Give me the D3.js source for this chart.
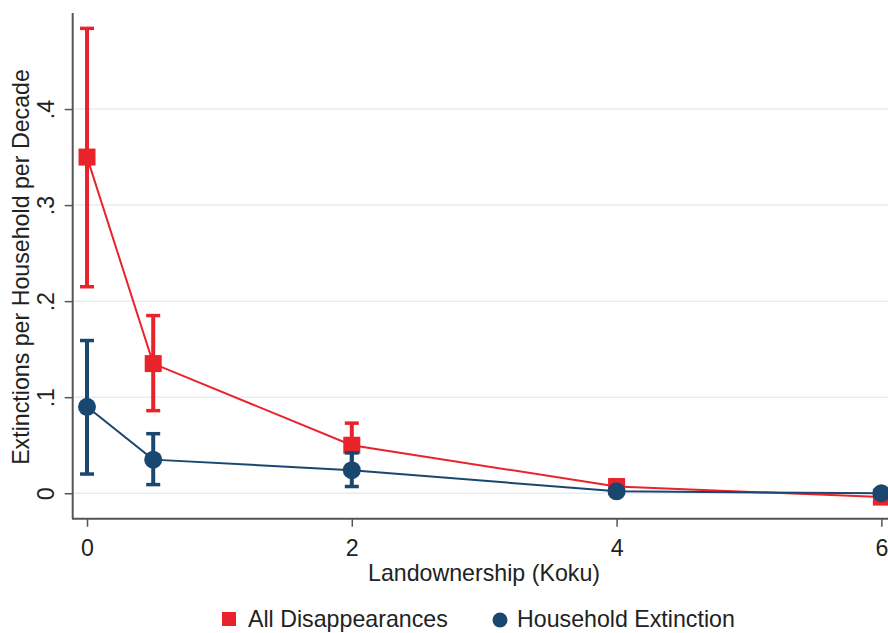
<!DOCTYPE html>
<html>
<head>
<meta charset="utf-8">
<script src="https://cdn.jsdelivr.net/npm/d3@7"></script>
<style>
  body { margin: 0; background: #fff; }
  text { font-family: "Liberation Sans", Arial, sans-serif; fill: #222; }
</style>
</head>
<body>
<div class="chart"></div>
<script>
var svgWidth = 888;
var svgHeight = 633;
var fontSize = 23.2;

// data
var koku = [0, 0.5, 2, 4, 6];
var allDisp = [0.350, 0.135, 0.050, 0.007, -0.004];
var allDispLo = [0.215, 0.086, 0.028, 0.003, -0.008];
var allDispHi = [0.484, 0.185, 0.073, 0.011, 0.000];
var hhExt = [0.090, 0.035, 0.024, 0.002, 0.000];
var hhExtLo = [0.020, 0.009, 0.007, 0.000, -0.002];
var hhExtHi = [0.159, 0.062, 0.042, 0.004, 0.002];

var xTicks = [0, 2, 4, 6];
var yTicks = [0, 0.1, 0.2, 0.3, 0.4];
var yTickLabels = ["0", ".1", ".2", ".3", ".4"];

var red = "#e8232b";
var navy = "#1a476f";

var svg = d3.select(".chart")
  .append("svg")
  .attr("width", svgWidth)
  .attr("height", svgHeight);

// scales
var xScale = d3.scaleLinear()
  .domain([-0.1134, 6.05])
  .range([72, 888]);

var yScale = d3.scaleLinear()
  .domain([-0.0265, 0.5])
  .range([518.7, 13]);

// grid lines
svg.append("g")
  .selectAll("line")
  .data(yTicks)
  .enter()
  .append("line")
  .attr("x1", 73)
  .attr("x2", svgWidth)
  .attr("y1", d => yScale(d))
  .attr("y2", d => yScale(d))
  .attr("stroke", "#e6eef2")
  .attr("stroke-width", 1.5);

// axes
var bottomAxis = d3.axisBottom(xScale)
  .tickValues(xTicks)
  .tickSize(8)
  .tickFormat(d3.format("d"));

var leftAxis = d3.axisLeft(yScale)
  .tickValues(yTicks)
  .tickSize(8)
  .tickFormat((d, i) => yTickLabels[i]);

var xAxis = svg.append("g")
  .attr("transform", "translate(0,518.7)")
  .call(bottomAxis);
xAxis.select(".domain").attr("d", "M72,0H888").attr("stroke", "#555").attr("stroke-width", 2);
xAxis.selectAll(".tick line").attr("stroke", "#555").attr("stroke-width", 1.5);
xAxis.selectAll("text")
  .attr("font-size", fontSize)
  .attr("fill", "#222")
  .attr("y", 37)
  .attr("dy", null);

var yAxis = svg.append("g")
  .attr("transform", "translate(72.7,0)")
  .call(leftAxis);
yAxis.select(".domain").attr("d", "M0,13V518.7").attr("stroke", "#555").attr("stroke-width", 2);
yAxis.selectAll(".tick line").attr("stroke", "#555").attr("stroke-width", 1.5);
yAxis.selectAll("text")
  .attr("font-size", fontSize)
  .attr("fill", "#222")
  .attr("x", null)
  .attr("dy", null)
  .attr("text-anchor", "middle")
  .attr("transform", "translate(-19,0) rotate(-90)");

// axis titles
svg.append("text")
  .attr("x", 484)
  .attr("y", 581)
  .attr("text-anchor", "middle")
  .attr("font-size", fontSize)
  .text("Landownership (Koku)");

svg.append("text")
  .attr("transform", "translate(29,267) rotate(-90)")
  .attr("text-anchor", "middle")
  .attr("font-size", fontSize)
  .text("Extinctions per Household per Decade");

// series drawing
function drawSeries(vals, lo, hi, color, shape) {
  var g = svg.append("g");
  var pts = koku.map((k, i) => ({ x: k, y: vals[i], lo: lo[i], hi: hi[i] }));

  g.append("path")
    .datum(pts)
    .attr("fill", "none")
    .attr("stroke", color)
    .attr("stroke-width", 2)
    .attr("d", d3.line().x(d => xScale(d.x)).y(d => yScale(d.y)));

  // error bars
  var bars = g.selectAll(".err").data(pts).enter().append("g");
  bars.append("line")
    .attr("x1", d => xScale(d.x)).attr("x2", d => xScale(d.x))
    .attr("y1", d => yScale(d.lo)).attr("y2", d => yScale(d.hi))
    .attr("stroke", color).attr("stroke-width", 4);
  bars.append("line")
    .attr("x1", d => xScale(d.x) - 7).attr("x2", d => xScale(d.x) + 7)
    .attr("y1", d => yScale(d.hi)).attr("y2", d => yScale(d.hi))
    .attr("stroke", color).attr("stroke-width", 3.5);
  bars.append("line")
    .attr("x1", d => xScale(d.x) - 7).attr("x2", d => xScale(d.x) + 7)
    .attr("y1", d => yScale(d.lo)).attr("y2", d => yScale(d.lo))
    .attr("stroke", color).attr("stroke-width", 3.5);

  if (shape === "square") {
    g.selectAll(".mk").data(pts).enter().append("rect")
      .attr("x", d => xScale(d.x) - 8.5)
      .attr("y", d => yScale(d.y) - 8.5)
      .attr("width", 17).attr("height", 17)
      .attr("fill", color);
  } else {
    g.selectAll(".mk").data(pts).enter().append("circle")
      .attr("cx", d => xScale(d.x))
      .attr("cy", d => yScale(d.y))
      .attr("r", 9)
      .attr("fill", color);
  }
}

drawSeries(allDisp, allDispLo, allDispHi, red, "square");
drawSeries(hhExt, hhExtLo, hhExtHi, navy, "circle");

// legend
var legend = svg.append("g");
legend.append("rect")
  .attr("x", 222).attr("y", 612)
  .attr("width", 14).attr("height", 14)
  .attr("fill", red);
legend.append("text")
  .attr("x", 248).attr("y", 627)
  .attr("font-size", fontSize)
  .text("All Disappearances");
legend.append("circle")
  .attr("cx", 500).attr("cy", 620)
  .attr("r", 7.5)
  .attr("fill", navy);
legend.append("text")
  .attr("x", 517).attr("y", 627)
  .attr("font-size", fontSize)
  .text("Household Extinction");
</script>
</body>
</html>
